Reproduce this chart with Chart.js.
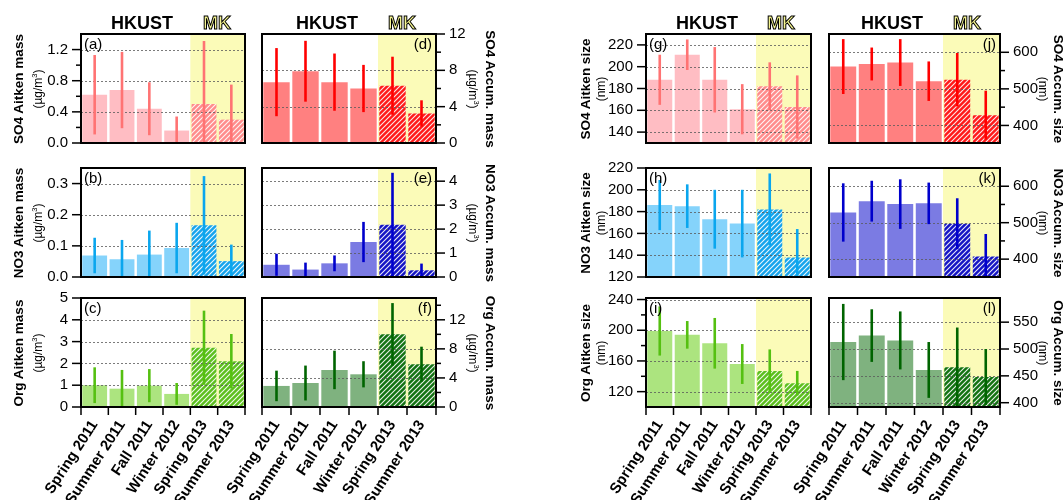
<!DOCTYPE html>
<html>
<head>
<meta charset="utf-8">
<script src="https://cdn.jsdelivr.net/npm/chart.js@4.4.1/dist/chart.umd.min.js"></script>
<style>
  body { margin: 0; background: #fff; width: 1064px; height: 500px; position: relative; overflow: hidden;
         font-family: "Liberation Sans", Arial, sans-serif; }
  canvas { position: absolute; }
  .t { position: absolute; white-space: nowrap; color: #000; }
  .ttl { font-weight: bold; font-size: 13.5px; }
  .unit { font-size: 12px; }
  .unit sup { font-size: 7.5px; }
  .rotL { transform: translate(-50%, -50%) rotate(-90deg); }
  .rotR { transform: translate(-50%, -50%) rotate(90deg); }
  .hk { font-weight: bold; font-size: 18px; transform: translate(-50%, -50%); }
  .mk { font-weight: bold; font-size: 18px; transform: translate(-50%, -50%); color: #f6f690;
        -webkit-text-stroke: 1px #000; }
</style>
</head>
<body>
<script>
Chart.defaults.font.family = '"Liberation Sans", Arial, sans-serif';
Chart.defaults.color = "#000";

const seasons = ["Spring 2011", "Summer 2011", "Fall 2011", "Winter 2012", "Spring 2013", "Summer 2013"];

// mean and standard deviation for each season
const so4AitMass = [0.62, 0.68, 0.44, 0.16, 0.5, 0.3];
const so4AitMassSd = [0.51, 0.49, 0.34, 0.18, 0.81, 0.45];
const no3AitMass = [0.069, 0.057, 0.072, 0.093, 0.166, 0.051];
const no3AitMassSd = [0.057, 0.062, 0.077, 0.081, 0.158, 0.053];
const orgAitMass = [1.0, 0.84, 0.98, 0.6, 2.72, 2.1];
const orgAitMassSd = [0.82, 0.86, 0.76, 0.5, 1.7, 1.25];

const so4AccMass = [6.7, 7.9, 6.7, 6.0, 6.3, 3.25];
const so4AccMassSd = [3.75, 3.35, 3.15, 2.6, 3.2, 1.45];
const no3AccMass = [0.51, 0.31, 0.57, 1.46, 2.18, 0.28];
const no3AccMassSd = [0.46, 0.29, 0.33, 0.84, 2.17, 0.28];
const orgAccMass = [2.9, 3.3, 5.1, 4.5, 10.0, 5.9];
const orgAccMassSd = [2.1, 2.4, 2.65, 1.8, 4.3, 2.4];

const so4AitSize = [188, 211, 188, 161, 182, 163];
const so4AitSizeSd = [23, 14, 30, 23, 22, 29];
const no3AitSize = [186, 185, 173, 169, 182, 138];
const no3AitSizeSd = [23, 20, 27, 31, 33, 26];
const orgAitSize = [199, 194, 183, 156, 147, 131];
const orgAitSizeSd = [32, 18, 33, 26, 28, 16];

const so4AccSize = [561, 568, 572, 521, 525, 428];
const so4AccSizeSd = [75, 45, 64, 54, 73, 67];
const no3AccSize = [528, 559, 551, 553, 497, 407];
const no3AccSizeSd = [80, 56, 68, 57, 70, 62];
const orgAccSize = [513, 525, 516, 461, 466, 448];
const orgAccSizeSd = [71, 49, 54, 52, 74, 52];

// y ticks (labelled) and minor ticks
const ticksA = [0, 0.4, 0.8, 1.2], minorA = [0.2, 0.6, 1.0];
const ticksB = [0, 0.1, 0.2, 0.3], minorB = [];
const ticksC = [0, 1, 2, 3, 4, 5], minorC = [];
const ticksD = [0, 4, 8, 12], minorD = [2, 6, 10];
const ticksE = [0, 1, 2, 3, 4], minorE = [];
const ticksF = [0, 4, 8, 12], minorF = [2, 6, 10, 14];
const ticksG = [140, 160, 180, 200, 220], minorG = [];
const ticksH = [120, 140, 160, 180, 200, 220], minorH = [];
const ticksI = [120, 160, 200, 240], minorI = [140, 180, 220];
const ticksJ = [400, 500, 600], minorJ = [450, 550];
const ticksK = [400, 500, 600], minorK = [450, 550];
const ticksL = [400, 450, 500, 550], minorL = [];

// layout of the 4x3 grid of plot areas
const cols = [
  { l: 81, r: 245, side: "left", title: 18, unit: 37 },
  { l: 262, r: 436, side: "right", title: 490, unit: 473 },
  { l: 646, r: 811, side: "left", title: 585, unit: 601 },
  { l: 829, r: 1000, side: "right", title: 1058, unit: 1043 },
];
const rows = [{ t: 34, b: 143 }, { t: 168, b: 277 }, { t: 298, b: 407 }];
const M = 60;
const YELLOW = "#fbfbb8";

const massUnit = "(µg/m<sup>3</sup>)";
const panels = [
  { tag: "(a)", col: 0, row: 0, v: so4AitMass, sd: so4AitMassSd, min: 0, max: 1.4, ticks: ticksA, minor: minorA, dec: 1,
    title: "SO4 Aitken mass", unit: massUnit, bar: "#ffbdc3", err: "#ff7373", hatch: "#ff8c8c" },
  { tag: "(b)", col: 0, row: 1, v: no3AitMass, sd: no3AitMassSd, min: 0, max: 0.35, ticks: ticksB, minor: minorB, dec: 1,
    title: "NO3 Aitken mass", unit: massUnit, bar: "#85d3fb", err: "#0aa6ee", hatch: "#16a4ec" },
  { tag: "(c)", col: 0, row: 2, v: orgAitMass, sd: orgAitMassSd, min: 0, max: 5, ticks: ticksC, minor: minorC, dec: 0,
    title: "Org Aitken mass", unit: massUnit, bar: "#ace47f", err: "#55c011", hatch: "#5cbf1e" },
  { tag: "(d)", col: 1, row: 0, v: so4AccMass, sd: so4AccMassSd, min: 0, max: 12, ticks: ticksD, minor: minorD, dec: 0,
    title: "SO4 Accum. mass", unit: massUnit, bar: "#ff8080", err: "#ff0000", hatch: "#ff1a1a" },
  { tag: "(e)", col: 1, row: 1, v: no3AccMass, sd: no3AccMassSd, min: 0, max: 4.55, ticks: ticksE, minor: minorE, dec: 0,
    title: "NO3 Accum. mass", unit: massUnit, bar: "#7b7be3", err: "#0000cc", hatch: "#1414c4" },
  { tag: "(f)", col: 1, row: 2, v: orgAccMass, sd: orgAccMassSd, min: 0, max: 15, ticks: ticksF, minor: minorF, dec: 0,
    title: "Org Accum. mass", unit: massUnit, bar: "#7fb27f", err: "#006400", hatch: "#127212" },
  { tag: "(g)", col: 2, row: 0, v: so4AitSize, sd: so4AitSizeSd, min: 130, max: 230, ticks: ticksG, minor: minorG, dec: 0,
    title: "SO4 Aitken size", unit: "(nm)", bar: "#ffbdc3", err: "#ff7373", hatch: "#ff8c8c" },
  { tag: "(h)", col: 2, row: 1, v: no3AitSize, sd: no3AitSizeSd, min: 120, max: 220, ticks: ticksH, minor: minorH, dec: 0,
    title: "NO3 Aitken size", unit: "(nm)", bar: "#85d3fb", err: "#0aa6ee", hatch: "#16a4ec" },
  { tag: "(i)", col: 2, row: 2, v: orgAitSize, sd: orgAitSizeSd, min: 100, max: 242, ticks: ticksI, minor: minorI, dec: 0,
    title: "Org Aitken size", unit: "(nm)", bar: "#ace47f", err: "#55c011", hatch: "#5cbf1e" },
  { tag: "(j)", col: 3, row: 0, v: so4AccSize, sd: so4AccSizeSd, min: 352, max: 650, ticks: ticksJ, minor: minorJ, dec: 0,
    title: "SO4 Accum. size", unit: "(nm)", bar: "#ff8080", err: "#ff0000", hatch: "#ff1a1a" },
  { tag: "(k)", col: 3, row: 1, v: no3AccSize, sd: no3AccSizeSd, min: 351, max: 650, ticks: ticksK, minor: minorK, dec: 0,
    title: "NO3 Accum. size", unit: "(nm)", bar: "#7b7be3", err: "#0000cc", hatch: "#1414c4" },
  { tag: "(l)", col: 3, row: 2, v: orgAccSize, sd: orgAccSizeSd, min: 392, max: 595, ticks: ticksL, minor: minorL, dec: 0,
    title: "Org Accum. size", unit: "(nm)", bar: "#7fb27f", err: "#006400", hatch: "#127212" },
];

function hatch(ctx, color) {
  const c = document.createElement("canvas");
  c.width = 5; c.height = 5;
  const g = c.getContext("2d");
  g.fillStyle = color;
  g.fillRect(0, 0, 5, 5);
  g.strokeStyle = "rgba(255,255,255,0.9)";
  g.lineWidth = 1.1;
  g.beginPath();
  g.moveTo(-1, 6); g.lineTo(6, -1);
  g.moveTo(-3, 3); g.lineTo(3, -3);
  g.moveTo(2, 8); g.lineTo(8, 2);
  g.stroke();
  return ctx.createPattern(c, "repeat");
}

// scales must not push the plot area around: it is fixed by the layout padding
function noPad(s) {
  s.paddingTop = 0; s.paddingBottom = 0; s.paddingLeft = 0; s.paddingRight = 0;
}

const decor = {
  id: "decor",
  beforeDatasetsDraw(chart) {
    const { ctx, chartArea: a, scales: { x } } = chart;
    const xs = (x.getPixelForValue(3) + x.getPixelForValue(4)) / 2;
    ctx.save();
    ctx.fillStyle = YELLOW;
    ctx.fillRect(xs, a.top, a.right - xs, a.bottom - a.top);
    ctx.restore();
  },
  afterDatasetsDraw(chart) {
    const p = chart.canvas.panel;
    const { ctx, chartArea: a, scales: { y } } = chart;
    ctx.save();
    ctx.beginPath();
    ctx.rect(a.left, a.top, a.right - a.left, a.bottom - a.top);
    ctx.clip();
    // dotted grid
    ctx.strokeStyle = "rgba(90,90,90,0.8)";
    ctx.lineWidth = 1;
    ctx.setLineDash([2, 2]);
    p.ticks.forEach((v) => {
      if (v <= p.min || v >= p.max) return;
      const py = Math.round(y.getPixelForValue(v)) + 0.5;
      ctx.beginPath(); ctx.moveTo(a.left, py); ctx.lineTo(a.right, py); ctx.stroke();
    });
    ctx.setLineDash([]);
    // error bars (mean +- sd)
    ctx.strokeStyle = p.err;
    ctx.lineWidth = 2.6;
    chart.getDatasetMeta(0).data.forEach((bar, i) => {
      const y1 = y.getPixelForValue(p.v[i] - p.sd[i]);
      const y2 = y.getPixelForValue(p.v[i] + p.sd[i]);
      ctx.beginPath(); ctx.moveTo(bar.x, y1); ctx.lineTo(bar.x, y2); ctx.stroke();
    });
    ctx.restore();

    ctx.save();
    ctx.strokeStyle = "#000";
    ctx.lineWidth = 2;
    ctx.strokeRect(a.left, a.top, a.right - a.left, a.bottom - a.top);
    // y tick marks
    ctx.lineWidth = 1.5;
    const edge = p.side === "left" ? a.left : a.right;
    const dir = p.side === "left" ? -1 : 1;
    const mark = (v, len) => {
      const py = y.getPixelForValue(v);
      ctx.beginPath(); ctx.moveTo(edge, py); ctx.lineTo(edge + dir * len, py); ctx.stroke();
    };
    p.ticks.forEach((v) => mark(v, 9));
    p.minor.forEach((v) => mark(v, 5));
    // x tick marks at category boundaries on the bottom row
    if (p.row === 2) {
      for (let i = 0; i <= seasons.length; i++) {
        const px = a.left + (a.right - a.left) * i / seasons.length;
        ctx.beginPath(); ctx.moveTo(px, a.bottom); ctx.lineTo(px, a.bottom + 8); ctx.stroke();
      }
    }
    // panel tag
    ctx.fillStyle = "#000";
    ctx.font = '15px "Liberation Sans", Arial, sans-serif';
    ctx.textBaseline = "top";
    if (p.side === "left") { ctx.textAlign = "left"; ctx.fillText(p.tag, a.left + 3, a.top + 3); }
    else { ctx.textAlign = "right"; ctx.fillText(p.tag, a.right - 4, a.top + 3); }
    ctx.restore();
  },
};

panels.forEach((p) => {
  const c = cols[p.col], r = rows[p.row];
  p.side = c.side;
  const bottomRow = p.row === 2;
  const padTop = 10;
  const xH = bottomRow ? 95 : 0;
  const padBottom = bottomRow ? 0 : 10;
  const w = c.r - c.l + 2 * M;
  const h = r.b - r.t + padTop + xH + padBottom;

  const cv = document.createElement("canvas");
  cv.width = w; cv.height = h;
  cv.style.left = (c.l - M) + "px";
  cv.style.top = (r.t - padTop) + "px";
  cv.panel = p;
  document.body.appendChild(cv);
  const ctx = cv.getContext("2d");

  const pattern = hatch(ctx, p.hatch);
  const fills = p.v.map((_, i) => (i >= 4 ? pattern : p.bar));

  new Chart(ctx, {
    type: "bar",
    data: {
      labels: seasons,
      datasets: [{ data: p.v, backgroundColor: fills, borderWidth: 0, barPercentage: 0.91, categoryPercentage: 1 }],
    },
    options: {
      responsive: false,
      animation: false,
      layout: { padding: { top: padTop, bottom: padBottom, left: c.side === "left" ? 0 : M, right: c.side === "left" ? M : 0 } },
      plugins: { legend: { display: false }, tooltip: { enabled: false } },
      scales: {
        x: {
          display: bottomRow,
          grid: { display: false, drawTicks: false },
          border: { display: false },
          ticks: { autoSkip: false, maxRotation: 57, minRotation: 57, padding: 10, font: { size: 15, weight: "bold" } },
          afterFit: (s) => { s.height = xH; noPad(s); },
        },
        y: {
          position: c.side,
          min: p.min,
          max: p.max,
          grid: { display: false, drawTicks: false },
          border: { display: false },
          afterBuildTicks: (s) => { s.ticks = p.ticks.map((v) => ({ value: v })); },
          ticks: { autoSkip: false, padding: 13, font: { size: 15 }, callback: (v) => Number(v).toFixed(p.dec) },
          afterFit: (s) => { s.width = M; noPad(s); },
        },
      },
    },
    plugins: [decor],
  });

  // axis titles as text
  const cy = (r.t + r.b) / 2;
  const rot = c.side === "left" ? "rotL" : "rotR";
  const t1 = document.createElement("div");
  t1.className = "t ttl " + rot;
  t1.style.left = c.title + "px"; t1.style.top = cy + "px";
  t1.textContent = p.title;
  document.body.appendChild(t1);
  const t2 = document.createElement("div");
  t2.className = "t unit " + rot;
  t2.style.left = c.unit + "px"; t2.style.top = cy + "px";
  t2.innerHTML = p.unit;
  document.body.appendChild(t2);
});

// site headers above the top row
const headers = [[142, 217], [327, 402], [707, 781], [892, 967]];
headers.forEach(([hx, mx]) => {
  const h = document.createElement("div");
  h.className = "t hk"; h.style.left = hx + "px"; h.style.top = "23px"; h.textContent = "HKUST";
  document.body.appendChild(h);
  const m = document.createElement("div");
  m.className = "t mk"; m.style.left = mx + "px"; m.style.top = "23px"; m.textContent = "MK";
  document.body.appendChild(m);
});
</script>
</body>
</html>
